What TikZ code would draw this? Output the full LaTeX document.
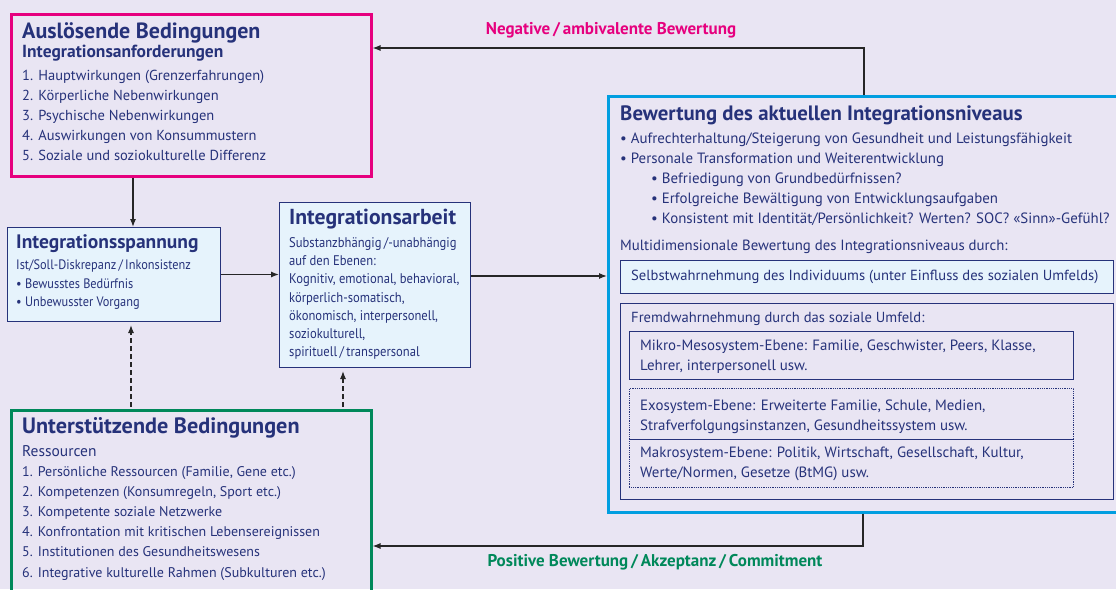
\documentclass[tikz,border=0pt]{standalone}
\usepackage{fontspec}
\setmainfont{PT Sans}
\newfontfamily\condfont[FakeStretch=0.9]{PT Sans}
\usetikzlibrary{arrows.meta}
\definecolor{bgc}{RGB}{233,229,243}
\definecolor{boxc}{RGB}{230,243,252}
\definecolor{navy}{RGB}{38,50,122}
\definecolor{pinkc}{RGB}{230,0,126}
\definecolor{greenc}{RGB}{0,136,90}
\definecolor{cyanc}{RGB}{0,158,224}
\begin{document}
\begin{tikzpicture}[x=1pt,y=-1pt,
  txt/.style={anchor=north west,inner sep=0pt,align=left,text=navy,font=\fontsize{14}{20}\selectfont},
  small/.style={txt,font=\condfont\fontsize{14}{18.3}\selectfont},
  ttl/.style={txt,font=\bfseries\fontsize{21}{24}\selectfont},
  frame/.style={draw=navy,line width=1pt,anchor=north west,inner sep=0pt},
  thick frame/.style={frame,line width=2.5pt},
  arr/.style={-{Latex[length=8pt,width=6pt]},line width=1.2pt,black!85},
  darr/.style={arr,dash pattern=on 5pt off 3pt},
  lbl/.style={anchor=center,inner sep=0pt,font=\bfseries\fontsize{17}{19}\selectfont}]
	\fill[bgc] (0,0) rectangle (1116,589);
	\useasboundingbox (0,0) rectangle (1116,589);
	% Ausloesende Bedingungen
	\node[thick frame,draw=pinkc,minimum width=360,minimum height=162] (trigger) at (10,13) {};
	\node[ttl,font=\bfseries\fontsize{22}{24}\selectfont] (triggerttl) at (22,22) {Auslösende Bedingungen};
	\node[txt,font=\bfseries\fontsize{17.5}{20}\selectfont] (triggersub) at (22,45) {Integrationsanforderungen};
	\node[txt,font=\fontsize{14.5}{20}\selectfont] (triggerlist) at (22,70) {1. Hauptwirkungen (Grenzerfahrungen)\\2. Körperliche Nebenwirkungen\\3. Psychische Nebenwirkungen\\4. Auswirkungen von Konsummustern\\5. Soziale und soziokulturelle Differenz};
	% Integrationsspannung
	\node[frame,fill=boxc,minimum width=213,minimum height=94] (tension) at (7,227) {};
	\node[ttl,font=\bfseries\fontsize{19.5}{22}\selectfont] (tensionttl) at (16,234) {Integrationsspannung};
	\node[small,font=\condfont\fontsize{13.7}{18.5}\selectfont] (tensionlist) at (16,260) {Ist/Soll-Diskrepanz\,/\,Inkonsistenz\\\textbullet\ Bewusstes Bedürfnis\\\textbullet\ Unbewusster Vorgang};
	% Integrationsarbeit
	\node[frame,fill=boxc,minimum width=191,minimum height=165] (work) at (279,202) {};
	\node[ttl,font=\bfseries\fontsize{21.7}{24}\selectfont] (workttl) at (289,209) {Integrationsarbeit};
	\node[small] (worklist) at (289,237) {Substanzbhängig\,/-unabhängig\\auf den Ebenen:\\Kognitiv, emotional, behavioral,\\körperlich-somatisch,\\ökonomisch, interpersonell,\\soziokulturell,\\spirituell\,/\,transpersonal};
	% Bewertung
	\node[thick frame,draw=cyanc,minimum width=512,minimum height=416] (eval) at (607,95) {};
	\node[ttl,font=\bfseries\fontsize{20.8}{24}\selectfont] (evalttl) at (620,106) {Bewertung des aktuellen Integrationsniveaus};
	\node[txt,font=\fontsize{14.9}{19.8}\selectfont] (evallist) at (620,133) {\textbullet\ Aufrechterhaltung/Steigerung von Gesundheit und Leistungsfähigkeit\\\textbullet\ Personale Transformation und Weiterentwicklung\\\hspace*{31pt}\textbullet\ Befriedigung von Grundbedürfnissen?\\\hspace*{31pt}\textbullet\ Erfolgreiche Bewältigung von Entwicklungsaufgaben\\\hspace*{31pt}\textbullet\ Konsistent mit Identität/Persönlichkeit? Werten? SOC? «Sinn»-Gefühl?};
	\node[txt,font=\fontsize{14.8}{20}\selectfont] (evalmulti) at (620,240) {Multidimensionale Bewertung des Integrationsniveaus durch:};
	\node[frame,fill=boxc,minimum width=493,minimum height=33] (self) at (620,260) {};
	\node[txt,font=\fontsize{14.6}{20}\selectfont] (selftxt) at (631,270) {Selbstwahrnehmung des Individuums (unter Einfluss des sozialen Umfelds)};
	\node[frame,minimum width=493,minimum height=196] (other) at (620,303) {};
	\node[txt,font=\fontsize{14.6}{20}\selectfont] (othertxt) at (631,312) {Fremdwahrnehmung durch das soziale Umfeld:};
	\node[frame,minimum width=444,minimum height=48] (micro) at (629,331) {};
	\node[txt,font=\fontsize{14.9}{19.5}\selectfont] (microtxt) at (640,340) {Mikro-Mesosystem-Ebene: Familie, Geschwister, Peers, Klasse,\\Lehrer, interpersonell usw.};
	\node[frame,line width=0.8pt,densely dotted,minimum width=444,minimum height=51] (exo) at (629,388) {};
	\node[txt,font=\fontsize{14.9}{19.5}\selectfont] (exotxt) at (640,400) {Exosystem-Ebene: Erweiterte Familie, Schule, Medien,\\Strafverfolgungsinstanzen, Gesundheitssystem usw.};
	\node[frame,line width=0.8pt,densely dotted,minimum width=444,minimum height=48] (macro) at (629,439) {};
	\node[txt,font=\fontsize{14.9}{19.5}\selectfont] (macrotxt) at (640,447) {Makrosystem-Ebene: Politik, Wirtschaft, Gesellschaft, Kultur,\\Werte/Normen, Gesetze (BtMG) usw.};
	% Unterstuetzende Bedingungen
	\node[thick frame,draw=greenc,minimum width=360,minimum height=185] (support) at (10,409) {};
	\node[ttl,font=\bfseries\fontsize{22.2}{24}\selectfont] (supportttl) at (22,417) {Unterstützende Bedingungen};
	\node[txt,font=\fontsize{15.5}{20}\selectfont] (supportsub) at (22,445) {Ressourcen};
	\node[txt,font=\fontsize{14}{20.2}\selectfont] (supportlist) at (22,466) {1. Persönliche Ressourcen (Familie, Gene etc.)\\2. Kompetenzen (Konsumregeln, Sport etc.)\\3. Kompetente soziale Netzwerke\\4. Konfrontation mit kritischen Lebensereignissen\\5. Institutionen des Gesundheitswesens\\6. Integrative kulturelle Rahmen (Subkulturen etc.)};
	% Verbindungen
	\coordinate (downx) at (133,0);
	\coordinate (dashl) at (131,0);
	\coordinate (dashr) at (343,0);
	\coordinate (negc) at (864,48);
	\coordinate (posc) at (863,546);
	\draw[arr] (trigger.south -| downx) -- (tension.north -| downx);
	\draw[arr] (tension.east) -- (tension.east -| work.west);
	\draw[arr] (work.east |- 0,276) -- (eval.west |- 0,276);
	\draw[arr] (eval.north -| negc) -- (negc) -- (trigger.east |- negc);
	\draw[arr] (eval.south -| posc) -- (posc) -- (support.east |- posc);
	\draw[darr,shorten <=2pt,shorten >=3pt] (support.north -| dashl) -- (tension.south -| dashl);
	\draw[darr,shorten <=2pt,shorten >=3pt] (support.north -| dashr) -- (work.south -| dashr);
	\node[lbl,text=pinkc] (neglbl) at (611,30) {Negative\,/\,ambivalente Bewertung};
	\node[lbl,text=greenc] (poslbl) at (655,562) {Positive Bewertung\,/\,Akzeptanz\,/\,Commitment};
\end{tikzpicture}
\end{document}
